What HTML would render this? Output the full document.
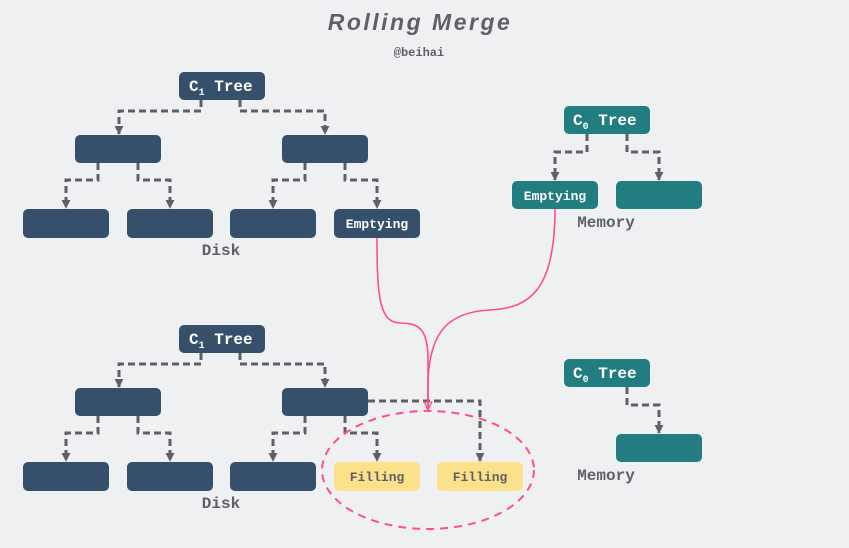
<!DOCTYPE html>
<html><head><meta charset="utf-8"><style>
html,body{margin:0;padding:0;background:#eff0f2;}
svg{display:block;font-family:"Liberation Mono","DejaVu Sans Mono",monospace;font-weight:bold;}
</style></head><body>
<svg width="849" height="548" viewBox="0 0 849 548" xmlns="http://www.w3.org/2000/svg">
<defs>
<marker id="d" viewBox="0 0 10 10" markerWidth="9" markerHeight="9" refX="9" refY="5" orient="auto" markerUnits="userSpaceOnUse"><path d="M0,0 L10,5 L0,10 z" fill="#5f5f69"/></marker>
<marker id="p" viewBox="0 0 10 10" markerWidth="10" markerHeight="10" refX="9" refY="5" orient="auto" markerUnits="userSpaceOnUse"><path d="M0,1 L9,5 L0,9" fill="none" stroke="#ff4f86" stroke-width="1.5"/></marker>
</defs>
<text x="420" y="30" text-anchor="middle" font-size="23" font-style="italic" fill="#5f5f69" font-family="Liberation Sans,sans-serif" font-weight="bold" letter-spacing="2.5">Rolling  Merge</text>
<text x="419" y="56" text-anchor="middle" font-size="12" fill="#5f5f69">@beihai</text>

<g fill="none" stroke="#5f5f69" stroke-width="3" stroke-dasharray="7,4" marker-end="url(#d)">
<path d="M201,100 V111 H119 V134"/>
<path d="M240,100 V111 H325 V134"/>
<path d="M98,163 V180 H66 V208"/>
<path d="M138,163 V180 H170 V208"/>
<path d="M305,163 V180 H273 V208"/>
<path d="M345,163 V180 H377 V208"/>
<path d="M587,134 V152 H555 V180"/>
<path d="M627,134 V152 H659 V180"/>
<path d="M201,353 V364 H119 V387"/>
<path d="M240,353 V364 H325 V387"/>
<path d="M98,416 V433 H66 V461"/>
<path d="M138,416 V433 H170 V461"/>
<path d="M305,416 V433 H273 V461"/>
<path d="M345,416 V433 H377 V461"/>
<path d="M368,401 H480 V461"/>
<path d="M627,387 V405 H659 V433"/>
</g>

<g fill="#364f6b">
<rect x="179" y="72" width="86" height="28" rx="5"/>
<rect x="75" y="135" width="86" height="28" rx="5"/>
<rect x="282" y="135" width="86" height="28" rx="5"/>
<rect x="23" y="209" width="86" height="29" rx="5"/>
<rect x="127" y="209" width="86" height="29" rx="5"/>
<rect x="230" y="209" width="86" height="29" rx="5"/>
<rect x="334" y="209" width="86" height="29" rx="5"/>
<rect x="179" y="325" width="86" height="28" rx="5"/>
<rect x="75" y="388" width="86" height="28" rx="5"/>
<rect x="282" y="388" width="86" height="28" rx="5"/>
<rect x="23" y="462" width="86" height="29" rx="5"/>
<rect x="127" y="462" width="86" height="29" rx="5"/>
<rect x="230" y="462" width="86" height="29" rx="5"/>
</g>
<g fill="#227d80">
<rect x="564" y="106" width="86" height="28" rx="5"/>
<rect x="512" y="181" width="86" height="28" rx="5"/>
<rect x="616" y="181" width="86" height="28" rx="5"/>
<rect x="564" y="359" width="86" height="28" rx="5"/>
<rect x="616" y="434" width="86" height="28" rx="5"/>
</g>
<g fill="#fbe18a">
<rect x="334" y="462" width="86" height="29" rx="5"/>
<rect x="437" y="462" width="86" height="29" rx="5"/>
</g>

<g fill="#fff" font-size="16">
<text x="189" y="91">C<tspan font-size="10" dy="4">1</tspan><tspan dy="-4"> Tree</tspan></text>
<text x="189" y="344">C<tspan font-size="10" dy="4">1</tspan><tspan dy="-4"> Tree</tspan></text>
<text x="573" y="125">C<tspan font-size="10" dy="4">0</tspan><tspan dy="-4"> Tree</tspan></text>
<text x="573" y="378">C<tspan font-size="10" dy="4">0</tspan><tspan dy="-4"> Tree</tspan></text>
</g>
<g fill="#fff" font-size="13" text-anchor="middle">
<text x="377" y="228">Emptying</text>
<text x="555" y="200">Emptying</text>
</g>
<g fill="#5f5f69" font-size="13" text-anchor="middle">
<text x="377" y="481">Filling</text>
<text x="480" y="481">Filling</text>
</g>
<g fill="#5f5f69" font-size="16" text-anchor="middle">
<text x="221" y="255">Disk</text>
<text x="221" y="508">Disk</text>
<text x="606" y="227">Memory</text>
<text x="606" y="480">Memory</text>
</g>

<ellipse cx="428" cy="470" rx="106" ry="59" fill="none" stroke="#ff4f86" stroke-width="2" stroke-dasharray="8,6"/>
<g fill="none" stroke="#ff4f86" stroke-width="1.6">
<path d="M377,238 C377,300 380,322 400,323 C420,323 428,330 428,360 L428,410" marker-end="url(#p)"/>
<path d="M555,209 C555,290 530,308 490,310 C450,312 430,330 428,380 L428,410"/>
</g>
</svg>
</body></html>
